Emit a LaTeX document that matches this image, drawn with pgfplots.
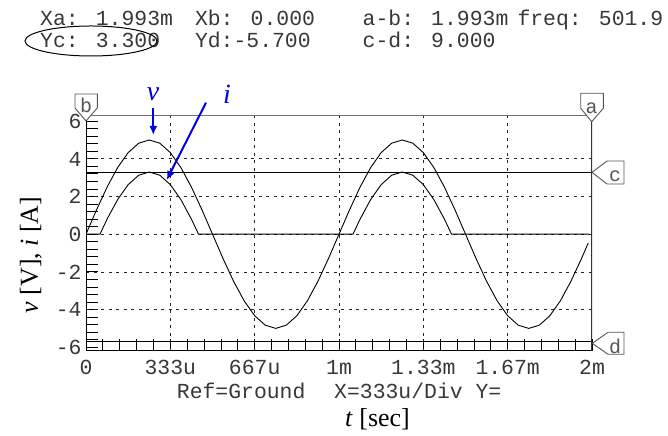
\documentclass[border=0pt]{standalone}
\usepackage{fontspec}
\setmainfont{Liberation Serif}
\newfontfamily\mono{Liberation Mono}
\usepackage{pgfplots}
\pgfplotsset{compat=1.18}
\usepackage{pgfplotstable}
\usetikzlibrary{arrows.meta}
\definecolor{txt}{HTML}{383838}
\definecolor{mk}{HTML}{555555}
\definecolor{ann}{RGB}{0,0,230}
\newcommand\mf{\mono\fontsize{21.5}{24}\selectfont}
\newcommand\mk{\mono\fontsize{20}{22}\selectfont}

\pgfplotstableread{
t v
0 0
0.041667 1.294
0.083333 2.5
0.125 3.536
0.166667 4.33
0.208333 4.83
0.25 5
0.291667 4.83
0.333333 4.33
0.375 3.536
0.416667 2.5
0.458333 1.294
0.5 0
0.541667 -1.294
0.583333 -2.5
0.625 -3.536
0.666667 -4.33
0.708333 -4.83
0.75 -5
0.791667 -4.83
0.833333 -4.33
0.875 -3.536
0.916667 -2.5
0.958333 -1.294
1 0
1.041667 1.294
1.083333 2.5
1.125 3.536
1.166667 4.33
1.208333 4.83
1.25 5
1.291667 4.83
1.333333 4.33
1.375 3.536
1.416667 2.5
1.458333 1.294
1.5 0
1.541667 -1.294
1.583333 -2.5
1.625 -3.536
1.666667 -4.33
1.708333 -4.83
1.75 -5
1.791667 -4.83
1.833333 -4.33
1.875 -3.536
1.916667 -2.5
1.958333 -1.294
1.985 -0.47
}\vdata

\pgfplotstableread{
t i
0 0
0.0552 0
0.083333 0.8
0.125 1.836
0.166667 2.63
0.208333 3.13
0.25 3.3
0.291667 3.13
0.333333 2.63
0.375 1.836
0.416667 0.8
0.4448 0
1.0552 0
1.083333 0.8
1.125 1.836
1.166667 2.63
1.208333 3.13
1.25 3.3
1.291667 3.13
1.333333 2.63
1.375 1.836
1.416667 0.8
1.4448 0
1.99 0
}\idata

\begin{document}
\begin{tikzpicture}[x=1bp,y=1bp]
\path[use as bounding box] (0,0) rectangle (668,436);
\begin{axis}[
  at={(86bp,85bp)}, anchor=south west, scale only axis,
  width=506bp, height=235.5bp,
  xmin=0, xmax=2, ymin=-6.2, ymax=6.3,
  axis line style={draw=none},
  xtick={0,0.333333,0.666667,1,1.333333,1.666667,2},
  xticklabels={0,333u,667u,1m,1.33m,1.67m,2m},
  minor xtick={0.066667,0.133333,0.2,0.266667,0.4,0.466667,0.533333,0.6,0.733333,0.8,0.866667,0.933333,1.066667,1.133333,1.2,1.266667,1.4,1.466667,1.533333,1.6,1.733333,1.8,1.866667,1.933333},
  ytick={-6,-4,-2,0,2,4,6},
  yticklabels={-6,-4,-2,0,2,4,6},
  minor ytick={-5.6,-5.2,-4.8,-4.4,-3.6,-3.2,-2.8,-2.4,-1.6,-1.2,-0.8,-0.4,0.4,0.8,1.2,1.6,2.4,2.8,3.2,3.6,4.4,4.8,5.2,5.6},
  xtick pos=bottom, ytick pos=left, tick align=inside,
  major tick length=12bp, minor tick length=12bp,
  tick style={black, line width=0.8bp},
  xticklabel style={font=\mf, text=txt, anchor=base, yshift=-23.3bp},
  yticklabel style={font=\mf, text=txt, anchor=base east, inner sep=0pt, xshift=-4.3bp, yshift=-7.3bp},
  extra x ticks={0.333333,0.666667,1,1.333333,1.666667},
  extra x tick labels={},
  extra x tick style={grid=major, major tick length=0pt},
  extra y ticks={-4,-2,0,2,4},
  extra y tick labels={},
  extra y tick style={grid=major, major tick length=0pt},
  major grid style={black!85, line width=0.7bp, dash pattern=on 3bp off 4.5bp},
]
\addplot[black, line width=0.9bp] coordinates {(0,3.3) (2,3.3)};
\addplot[black, line width=0.9bp] coordinates {(0,-5.7) (2,-5.7)};
\addplot[black, line width=0.9bp] table[x=t, y=v] {\vdata};
\addplot[black, line width=0.9bp] table[x=t, y=i] {\idata};
\draw[black!55, line width=1bp] (rel axis cs:0,1) -- (rel axis cs:1,1);
\draw[black, line width=1.5bp] (rel axis cs:0,0) -- (rel axis cs:1,0);
\draw[black, line width=1.5bp] (rel axis cs:0,0) -- (rel axis cs:0,1);
\draw[black!80, line width=2.5bp] (rel axis cs:1,0) -- (rel axis cs:1,1);
\end{axis}
% cursor markers
\draw[mk, fill=white, line width=0.9bp] (75,342) -- (97.3,342) -- (97.3,328) -- (86,315) -- (75,328) -- cycle;
\node[text=mk, font=\mk, inner sep=0pt] at (86,331) {b};
\draw[mk, fill=white, line width=0.9bp] (580.7,342.7) -- (603.3,342.7) -- (603.3,327.7) -- (591.7,314.3) -- (580.7,327.7) -- cycle;
\node[text=mk, font=\mk, inner sep=0pt] at (591.7,328) {a};
\draw[mk, fill=white, line width=0.9bp] (592,263.7) -- (607,275) -- (624,275) -- (624,252) -- (607,252) -- cycle;
\node[text=mk, font=\mk, inner sep=0pt] at (615,260) {c};
\draw[mk, fill=white, line width=0.9bp] (592.3,92.7) -- (608,103.7) -- (624,103.7) -- (624,81.7) -- (608,81.7) -- cycle;
\node[text=mk, font=\mk, inner sep=0pt] at (615,90) {d};
% header
\node[anchor=base west, inner sep=0pt, text=txt, font=\mf] at (40,410.3) {Xa: 1.993m};
\node[anchor=base west, inner sep=0pt, text=txt, font=\mf] at (194.8,410.3) {Xb: 0.000};
\node[anchor=base west, inner sep=0pt, text=txt, font=\mf] at (362.5,410.3) {a-b: 1.993m};
\node[anchor=base west, inner sep=0pt, text=txt, font=\mf] at (517.3,410.3) {freq: 501.9};
\node[anchor=base west, inner sep=0pt, text=txt, font=\mf] at (40,388.5) {Yc: 3.300};
\node[anchor=base west, inner sep=0pt, text=txt, font=\mf] at (194.8,388.5) {Yd:-5.700};
\node[anchor=base west, inner sep=0pt, text=txt, font=\mf] at (362.5,388.5) {c-d: 9.000};
\draw[black, line width=1bp] (91,395) ellipse [x radius=66, y radius=15];
% footer
\node[anchor=base west, inner sep=0pt, text=txt, font=\mf] at (176.7,37.7) {Ref=Ground};
\node[anchor=base west, inner sep=0pt, text=txt, font=\mf] at (334,37.7) {X=333u/Div Y=};
\node[font=\fontsize{26}{28}\selectfont, inner sep=0pt] at (377.5,17) {\textit{t} [sec]};
\node[rotate=90, font=\fontsize{26}{28}\selectfont, inner sep=0pt] at (31,181) {\textit{v} [V], \textit{i} [A]};
% annotations
\node[text=ann, font=\fontsize{28}{30}\selectfont\itshape, inner sep=0pt] at (153,342) {v};
\draw[ann, line width=2bp, -{Latex[length=9bp,width=8bp]}] (153.3,328) -- (153.3,301);
\node[text=ann, font=\fontsize{28}{30}\selectfont\itshape, inner sep=0pt] at (227,342) {i};
\draw[ann, line width=2bp, -{Latex[length=9bp,width=8bp]}] (206,333.3) -- (166.7,256);
\end{tikzpicture}
\end{document}
